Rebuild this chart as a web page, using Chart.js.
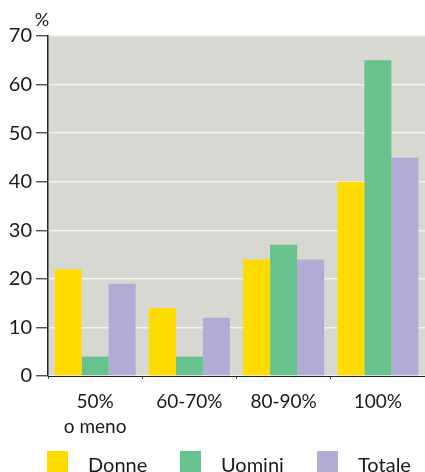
<!DOCTYPE html>
<html>
<head>
<meta charset="utf-8">
<script src="https://cdn.jsdelivr.net/npm/chart.js@4"></script>
<style>
  html, body { margin: 0; padding: 0; background: #ffffff; }
  #wrap { width: 425px; height: 472px; position: relative; }
</style>
</head>
<body>
<div id="wrap"><canvas id="c" width="425" height="472"></canvas></div>
<script>
// Categories (share of the working time) and percentages per group
const categories = [["50%", "o meno"], "60-70%", "80-90%", "100%"];
const donne  = [22, 14, 24, 40];
const uomini = [4, 4, 27, 65];
const totale = [19, 12, 24, 45];
const seriesNames = ["Donne", "Uomini", "Totale"];
const yTicks = [0, 10, 20, 30, 40, 50, 60, 70];

const FONT = "Lato, 'Open Sans', sans-serif";
const colors = ["#FFDC00", "#67C28D", "#B0ACD6"];

// Grey plot background
const bgPlugin = {
  id: "plotBg",
  beforeDraw(chart) {
    const a = chart.chartArea, ctx = chart.ctx;
    ctx.save();
    ctx.fillStyle = "#D8D8D3";
    ctx.fillRect(a.left, a.top, a.right - a.left, a.bottom - a.top);
    ctx.restore();
  }
};

// "%" unit label above the y axis, and the legend row at the bottom
const extrasPlugin = {
  id: "extras",
  afterDraw(chart) {
    const ctx = chart.ctx;
    ctx.save();
    ctx.fillStyle = "#1a1a1a";
    ctx.font = "18px " + FONT;
    ctx.textAlign = "center";
    ctx.textBaseline = "alphabetic";
    ctx.fillText("%", 42, 26);

    const boxX = [47, 180, 317];
    chart.data.datasets.forEach((ds, i) => {
      ctx.fillStyle = ds.backgroundColor;
      ctx.fillRect(boxX[i], 451, 21, 24);
      ctx.fillStyle = "#1a1a1a";
      ctx.font = "20px " + FONT;
      ctx.textAlign = "left";
      ctx.fillText(ds.label, boxX[i] + 41, 472);
    });
    ctx.restore();
  }
};

new Chart(document.getElementById("c"), {
  type: "bar",
  data: {
    labels: categories,
    datasets: [
      { label: seriesNames[0], data: donne,  backgroundColor: colors[0] },
      { label: seriesNames[1], data: uomini, backgroundColor: colors[1] },
      { label: seriesNames[2], data: totale, backgroundColor: colors[2] }
    ]
  },
  options: {
    responsive: false,
    animation: false,
    layout: { padding: { top: 36, right: 0, left: 0, bottom: 0 } },
    plugins: {
      legend: { display: false },
      tooltip: { enabled: false }
    },
    datasets: { bar: { categoryPercentage: 0.86, barPercentage: 1.0, borderWidth: 0 } },
    scales: {
      x: {
        grid: { display: true, drawOnChartArea: false, drawTicks: true, tickLength: 3, color: "#555", offset: true },
        border: { display: true, color: "#222", width: 1 },
        ticks: {
          color: "#1a1a1a",
          font: { family: FONT, size: 19, lineHeight: 1.32 },
          padding: 10,
          maxRotation: 0,
          autoSkip: false
        },
        afterFit(scale) { scale.height = 96; }
      },
      y: {
        min: 0,
        max: 70,
        afterBuildTicks(scale) { scale.ticks = yTicks.map(v => ({ value: v })); },
        grid: {
          color: "#F2F2EE",
          lineWidth: 1.5,
          tickLength: 12,
          tickColor: "#333",
          tickWidth: 1.2
        },
        border: { display: true, color: "#222", width: 1.5 },
        ticks: {
          color: "#1a1a1a",
          font: { family: FONT, size: 20 },
          padding: 4
        },
        afterFit(scale) { scale.width = 48; }
      }
    }
  },
  plugins: [bgPlugin, extrasPlugin]
});
</script>
</body>
</html>
